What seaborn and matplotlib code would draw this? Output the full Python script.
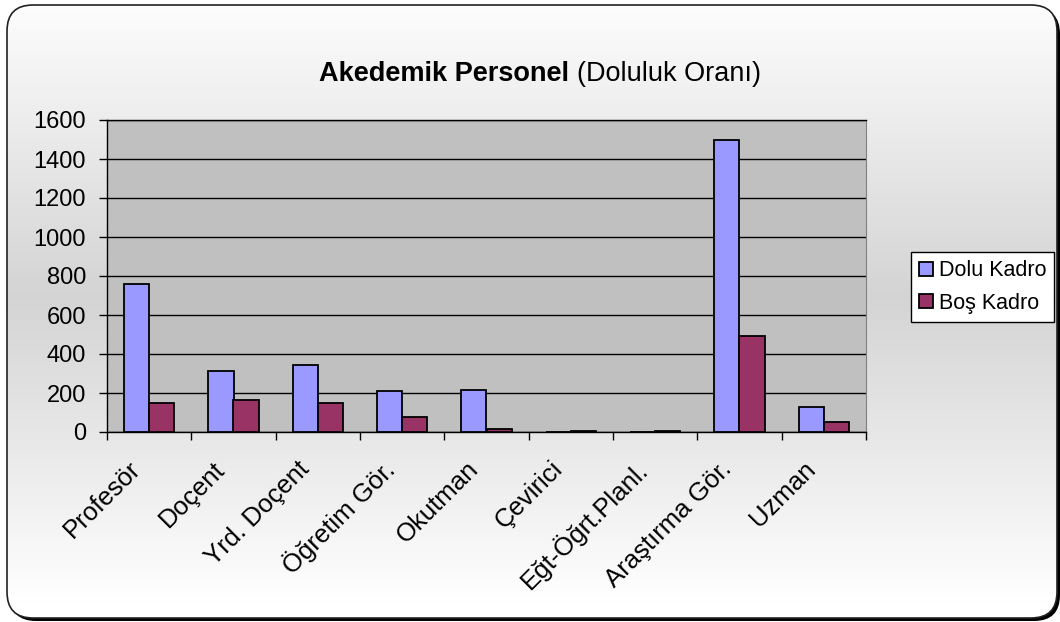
import numpy as np
import pandas as pd
import seaborn as sns
import matplotlib.pyplot as plt
from matplotlib.patches import FancyBboxPatch, Patch
from matplotlib.transforms import ScaledTranslation

# Chart data
categories = ['Profesör', 'Doçent', 'Yrd. Doçent', 'Öğretim Gör.', 'Okutman',
              'Çevirici', 'Eğt-Öğrt.Planl.', 'Araştırma Gör.', 'Uzman']
dolu = [760, 311, 344, 212, 215, 0, 2, 1500, 130]
bos = [148, 164, 150, 75, 13, 4, 5, 493, 53]
series = ['Dolu Kadro', 'Boş Kadro']
colors = ['#9999ff', '#993366']
yticks = [0, 200, 400, 600, 800, 1000, 1200, 1400, 1600]

sns.set_style('white')
plt.rcParams['font.family'] = ['Liberation Sans', 'DejaVu Sans']
plt.rcParams['text.color'] = 'black'
plt.rcParams['xtick.color'] = 'black'
plt.rcParams['ytick.color'] = 'black'

fig = plt.figure(figsize=(10.6, 6.22), dpi=100)
fig.patch.set_facecolor('white')

# Rounded frame with gradient fill and shadow (pixel coordinates)
bg = fig.add_axes([0, 0, 1, 1], zorder=-1)
shadow = FancyBboxPatch((10, 8), 1050, 613,
                        boxstyle='round,pad=0,rounding_size=26',
                        facecolor='black', edgecolor='none', zorder=0)
bg.add_patch(shadow)
frame = FancyBboxPatch((7, 5), 1050, 613,
                       boxstyle='round,pad=0,rounding_size=26',
                       facecolor='none', edgecolor='#222222', linewidth=1.2,
                       zorder=2)
bg.add_patch(frame)
t = np.linspace(0, 1, 300)
shade = 1 - 0.17 * (1 - np.abs(2 * t - 0.95))
grad = np.repeat(np.clip(shade, 0.8, 1)[:, None, None], 3, axis=2)
img = bg.imshow(grad, extent=[7, 1057, 618, 5], origin='upper',
                aspect='auto', zorder=1)
img.set_clip_path(frame)
bg.set_xlim(0, 1060)
bg.set_ylim(622, 0)
bg.axis('off')

# Main plot area
ax = fig.add_axes([107 / 1060, 1 - 432 / 622, 759 / 1060, 312 / 622])
df = pd.DataFrame({
    'Kadro': categories * 2,
    'Sayı': dolu + bos,
    'Tür': [series[0]] * len(dolu) + [series[1]] * len(bos),
})
sns.barplot(data=df, x='Kadro', y='Sayı', hue='Tür', palette=colors,
            saturation=1, width=0.6, edgecolor='black', linewidth=1.3,
            ax=ax, legend=False, zorder=3)

ax.set_facecolor('#c0c0c0')
ax.set_xlim(-0.5, len(categories) - 0.5)
ax.set_ylim(0, 1600)
ax.set_yticks(yticks)
ax.yaxis.grid(True, color='black', linewidth=1)
ax.set_axisbelow(True)
ax.set_xlabel('')
ax.set_ylabel('')

for side in ['left', 'bottom', 'top']:
    ax.spines[side].set_color('black')
    ax.spines[side].set_linewidth(1)
ax.spines['right'].set_color('#808080')

ax.set_xticks(np.arange(-0.5, len(categories), 1))
ax.set_xticklabels([])
ax.set_xticks(range(len(categories)), minor=True)
ax.set_xticklabels(categories, minor=True, rotation=45, ha='right',
                   va='center', rotation_mode='anchor', fontsize=18.5)
ax.tick_params(axis='x', which='major', direction='out', length=6,
               width=1, color='black', bottom=True)
ax.tick_params(axis='x', which='minor', length=0, pad=24)
ax.tick_params(axis='y', direction='out', length=6, width=1, color='black',
               left=True, labelsize=17, pad=9)
offset = ScaledTranslation(-12 / 100, 0, fig.dpi_scale_trans)
for lbl in ax.get_xticklabels(minor=True):
    lbl.set_transform(lbl.get_transform() + offset)

# Title: bold part and normal part
fig.text(569 / 1060, 1 - 74 / 622, 'Akedemik Personel', ha='right',
         va='center', fontsize=19.5, fontweight='bold')
fig.text(577 / 1060, 1 - 74 / 622, '(Doluluk Oranı)', ha='left',
         va='center', fontsize=19.5)

# Legend
handles = [Patch(facecolor=c, edgecolor='black', linewidth=1.3) for c in colors]
leg = fig.legend(handles, series, loc='upper left',
                 bbox_to_anchor=(911 / 1060, 1 - 252 / 622),
                 frameon=True, fancybox=False, fontsize=15.5,
                 handlelength=0.62, handleheight=0.62, handletextpad=0.28,
                 borderpad=0.38, labelspacing=0.55, borderaxespad=0)
leg.get_frame().set_edgecolor('black')
leg.get_frame().set_linewidth(1)
leg.get_frame().set_facecolor('white')
leg.get_frame().set_alpha(1)

fig.savefig('out.png', dpi=100)
